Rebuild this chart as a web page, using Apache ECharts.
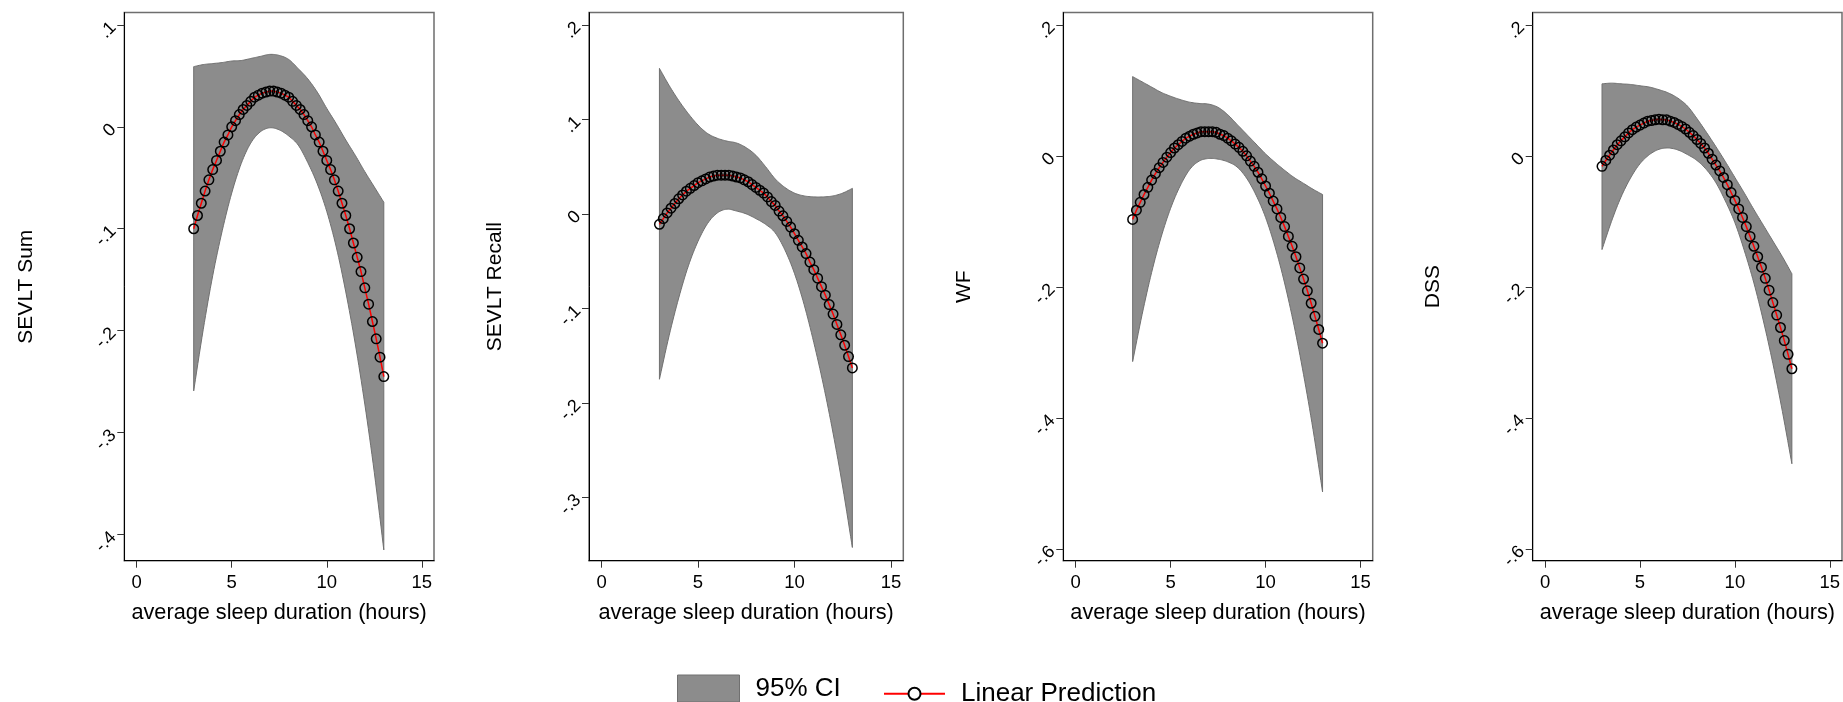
<!DOCTYPE html>
<html><head><meta charset="utf-8">
<script src="https://cdn.jsdelivr.net/npm/echarts@6/dist/echarts.min.js"></script>
<style>html,body{margin:0;padding:0;background:#fff}#c{width:1843px;height:702px}</style>
</head><body><div id="c"></div>
<script>
// ---------- data ----------
const panelNames = ['SEVLT Sum', 'SEVLT Recall', 'WF', 'DSS'];
const xTitle = 'average sleep duration (hours)';
const legendNames = ['95% CI', 'Linear Prediction'];
const xTicks = [0, 5, 10, 15];
const sumTicks = [-0.4, -0.3, -0.2, -0.1, 0, 0.1];
const recallTicks = [-0.3, -0.2, -0.1, 0, 0.1, 0.2];
const wfTicks = [-0.6, -0.4, -0.2, 0, 0.2];
const dssTicks = [-0.6, -0.4, -0.2, 0, 0.2];

const predX = [3, 3.2, 3.4, 3.6, 3.8, 4, 4.2, 4.4, 4.6, 4.8, 5, 5.2, 5.4, 5.6, 5.8, 6, 6.2, 6.4, 6.6, 6.8, 7, 7.2, 7.4, 7.6, 7.8, 8, 8.2, 8.4, 8.6, 8.8, 9, 9.2, 9.4, 9.6, 9.8, 10, 10.2, 10.4, 10.6, 10.8, 11, 11.2, 11.4, 11.6, 11.8, 12, 12.2, 12.4, 12.6, 12.8, 13];
const ciX = [3, 3.5, 4, 4.5, 5, 5.5, 6, 6.5, 7, 7.5, 8, 8.5, 9, 9.5, 10, 10.5, 11, 11.5, 12, 12.5, 13];

const sumPred = [-0.100,-0.087,-0.075,-0.063,-0.052,-0.042,-0.033,-0.024,-0.015,-0.008,0.000,0.006,0.012,0.017,0.021,0.025,0.029,0.031,0.033,0.034,0.035,0.035,0.034,0.033,0.031,0.029,0.025,0.021,0.017,0.012,0.006,0.000,-0.008,-0.015,-0.024,-0.033,-0.042,-0.052,-0.063,-0.075,-0.087,-0.100,-0.114,-0.128,-0.142,-0.158,-0.174,-0.191,-0.208,-0.226,-0.245];
const sumUpper = [0.059,0.061,0.062,0.063,0.0645,0.065,0.067,0.069,0.071,0.070,0.066,0.057,0.047,0.034,0.018,0.003,-0.013,-0.028,-0.044,-0.059,-0.074];
const sumLower = [-0.259,-0.199,-0.146,-0.102,-0.065,-0.036,-0.016,-0.005,-0.001,-0.003,-0.009,-0.018,-0.035,-0.056,-0.083,-0.118,-0.162,-0.213,-0.272,-0.339,-0.415];

const recallPred = [-0.011,-0.005,0.001,0.006,0.011,0.016,0.020,0.024,0.027,0.030,0.033,0.035,0.037,0.039,0.040,0.041,0.041,0.041,0.041,0.040,0.039,0.038,0.036,0.034,0.031,0.028,0.025,0.022,0.018,0.013,0.009,0.003,-0.002,-0.008,-0.014,-0.021,-0.028,-0.035,-0.042,-0.051,-0.059,-0.068,-0.077,-0.086,-0.096,-0.106,-0.117,-0.128,-0.139,-0.151,-0.163];
const recallUpper = [0.154,0.136,0.120,0.106,0.094,0.085,0.080,0.077,0.075,0.070,0.062,0.050,0.037,0.028,0.022,0.019,0.018,0.018,0.019,0.022,0.027];
const recallLower = [-0.175,-0.129,-0.089,-0.055,-0.029,-0.010,0.001,0.005,0.003,0.000,-0.005,-0.011,-0.020,-0.038,-0.063,-0.096,-0.136,-0.181,-0.232,-0.289,-0.353];

const wfPred = [-0.097,-0.083,-0.071,-0.059,-0.048,-0.037,-0.027,-0.018,-0.010,-0.002,0.005,0.012,0.017,0.022,0.027,0.030,0.033,0.035,0.037,0.037,0.037,0.037,0.036,0.033,0.031,0.027,0.023,0.018,0.013,0.007,0.000,-0.008,-0.016,-0.025,-0.035,-0.046,-0.057,-0.069,-0.081,-0.094,-0.108,-0.123,-0.138,-0.154,-0.171,-0.188,-0.206,-0.225,-0.245,-0.265,-0.286];
const wfUpper = [0.121,0.113,0.105,0.097,0.091,0.086,0.082,0.080,0.079,0.074,0.063,0.048,0.033,0.018,0.003,-0.010,-0.022,-0.033,-0.042,-0.051,-0.059];
const wfLower = [-0.314,-0.242,-0.178,-0.124,-0.080,-0.046,-0.021,-0.008,-0.004,-0.005,-0.009,-0.017,-0.034,-0.060,-0.094,-0.139,-0.194,-0.259,-0.334,-0.418,-0.513];

const dssPred = [-0.016,-0.007,0.001,0.009,0.017,0.023,0.029,0.035,0.040,0.044,0.047,0.050,0.053,0.054,0.055,0.056,0.055,0.055,0.053,0.051,0.048,0.045,0.041,0.036,0.031,0.025,0.019,0.012,0.004,-0.005,-0.014,-0.023,-0.033,-0.044,-0.056,-0.068,-0.081,-0.094,-0.108,-0.123,-0.138,-0.154,-0.170,-0.187,-0.205,-0.224,-0.243,-0.262,-0.282,-0.303,-0.325];
const dssUpper = [0.110,0.111,0.110,0.109,0.107,0.105,0.101,0.096,0.088,0.076,0.057,0.036,0.014,-0.009,-0.033,-0.057,-0.082,-0.106,-0.130,-0.154,-0.180];
const dssLower = [-0.143,-0.100,-0.063,-0.034,-0.012,0.002,0.010,0.012,0.009,0.002,-0.007,-0.021,-0.041,-0.069,-0.102,-0.145,-0.194,-0.252,-0.317,-0.390,-0.470];

// ---------- layout / style ----------
const FONT = '"Liberation Sans", Arial, Helvetica, sans-serif';
const FILL = '#8c8c8c';
const EDGE = '#707070';
const panels = [
  {pred: sumPred, upper: sumUpper, lower: sumLower, ticks: sumTicks},
  {pred: recallPred, upper: recallUpper, lower: recallLower, ticks: recallTicks},
  {pred: wfPred, upper: wfUpper, lower: wfLower, ticks: wfTicks},
  {pred: dssPred, upper: dssUpper, lower: dssLower, ticks: dssTicks}
];
const gridLeft = [124.3, 589, 1063.3, 1532.7];
const gridWidth = [309.7, 314.3, 309.4, 309.3];
const yMin = [-0.4256, -0.367, -0.618, -0.618];
const yMax = [0.112, 0.213, 0.2187, 0.2187];
const nameGaps = [88, 83, 89, 89];

function fmtY(v) {
  const r = Math.round(v * 10) / 10;
  if (r === 0) return '0';
  return (r < 0 ? '-' : '') + Math.abs(r).toFixed(1).replace(/^0/, '');
}

// Catmull-Rom interpolation in pixel space (smooth outline through the read points)
function smoothPts(pts) {
  const out = [];
  const n = pts.length;
  for (let i = 0; i < n - 1; i++) {
    const p0 = pts[Math.max(0, i - 1)], p1 = pts[i], p2 = pts[i + 1], p3 = pts[Math.min(n - 1, i + 2)];
    const steps = 8;
    for (let s = 0; s < steps; s++) {
      const t = s / steps, t2 = t * t, t3 = t2 * t;
      out.push([
        0.5 * (2 * p1[0] + (-p0[0] + p2[0]) * t + (2 * p0[0] - 5 * p1[0] + 4 * p2[0] - p3[0]) * t2 + (-p0[0] + 3 * p1[0] - 3 * p2[0] + p3[0]) * t3),
        0.5 * (2 * p1[1] + (-p0[1] + p2[1]) * t + (2 * p0[1] - 5 * p1[1] + 4 * p2[1] - p3[1]) * t2 + (-p0[1] + 3 * p1[1] - 3 * p2[1] + p3[1]) * t3)
      ]);
    }
  }
  out.push(pts[n - 1]);
  return out;
}

const grids = [], xAxes = [], yAxes = [], series = [];
panels.forEach((p, i) => {
  grids.push({left: gridLeft[i], top: 12.6, width: gridWidth[i], height: 548.1,
    show: true, borderColor: '#6e6e6e', borderWidth: 1.5, backgroundColor: 'transparent',
    containLabel: false, outerBoundsMode: 'none'});
  xAxes.push({type: 'value', gridIndex: i, min: -0.65, max: 15.64,
    axisLine: {show: true, onZero: false, lineStyle: {color: '#000', width: 1}},
    axisTick: {show: true, length: 7, customValues: xTicks, lineStyle: {color: '#333', width: 1}},
    axisLabel: {customValues: xTicks, margin: 13, fontSize: 18.5, color: '#000', fontFamily: FONT},
    splitLine: {show: false},
    name: xTitle, nameLocation: 'middle', nameGap: 41,
    nameTextStyle: {fontSize: 21.7, color: '#000', fontFamily: FONT}});
  yAxes.push({type: 'value', gridIndex: i, min: yMin[i], max: yMax[i],
    axisLine: {show: true, onZero: false, lineStyle: {color: '#000', width: 1}},
    axisTick: {show: true, length: 7, customValues: p.ticks, lineStyle: {color: '#333', width: 1}},
    axisLabel: {customValues: p.ticks, rotate: 45, margin: 11, fontSize: 18, color: '#000', fontFamily: FONT, formatter: fmtY},
    splitLine: {show: false},
    name: panelNames[i], nameLocation: 'middle', nameGap: nameGaps[i], nameRotate: 90,
    nameTextStyle: {fontSize: 21, color: '#000', fontFamily: FONT}});
  const band = ciX.map((x, j) => [x, p.lower[j], p.upper[j]]);
  series.push({type: 'custom', name: legendNames[0], xAxisIndex: i, yAxisIndex: i,
    coordinateSystem: 'cartesian2d', silent: true, z: 1, color: FILL,
    itemStyle: {color: FILL},
    encode: {x: 0, y: [1, 2]},
    data: band,
    renderItem: function (params, api) {
      if (params.dataIndex !== 0) return null;
      const up = smoothPts(band.map(d => api.coord([d[0], d[2]])));
      const lo = smoothPts(band.map(d => api.coord([d[0], d[1]])));
      const poly = up.concat(lo.reverse());
      return {type: 'polygon', shape: {points: poly},
        style: {fill: FILL, stroke: EDGE, lineWidth: 1}};
    }});
  series.push({type: 'line', name: legendNames[1], xAxisIndex: i, yAxisIndex: i,
    symbol: 'circle', symbolSize: 9.5, z: 3, silent: true,
    itemStyle: {color: 'rgba(0,0,0,0)', borderColor: '#000', borderWidth: 1.5},
    lineStyle: {color: '#ff0000', width: 1.5},
    data: predX.map((x, j) => [x, p.pred[j]])});
});

const chart = echarts.init(document.getElementById('c'), null, {renderer: 'canvas'});
chart.setOption({
  animation: false,
  backgroundColor: '#fff',
  grid: grids, xAxis: xAxes, yAxis: yAxes, series: series,
  legend: [
    {data: [{name: legendNames[0], icon: 'rect', itemStyle: {color: FILL, borderColor: EDGE, borderWidth: 1}}],
     left: 677, top: 674.5, itemWidth: 62, itemHeight: 27, padding: 0, selectedMode: false,
     textStyle: {fontSize: 26, color: '#000', fontFamily: FONT, padding: [0, 0, 0, 11]}},
    {data: [{name: legendNames[1], itemStyle: {color: '#fff', borderColor: '#000', borderWidth: 2}}],
     left: 883, top: 680.8, itemWidth: 61, itemHeight: 15, padding: 0, selectedMode: false,
     lineStyle: {color: '#ff0000', width: 2},
     textStyle: {fontSize: 26, color: '#000', fontFamily: FONT, padding: [0, 0, 0, 11]}}
  ]
});
</script>
</body></html>
